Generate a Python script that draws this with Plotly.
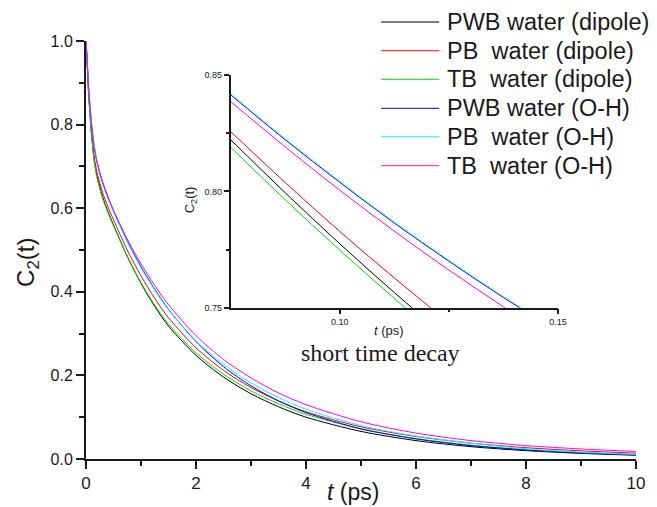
import plotly.graph_objects as go

# ---------------- data ----------------
T = [0, 0.025, 0.05, 0.075, 0.1, 0.15, 0.2, 0.3, 0.4, 0.5, 0.75, 1.0, 1.25, 1.5,
     2.0, 2.5, 3.0, 3.5, 4.0, 5.0, 6.0, 7.0, 8.0, 9.0, 10.0]
PWB_DIPOLE = [1.0, 0.935, 0.868, 0.822, 0.778, 0.715, 0.677, 0.628, 0.592, 0.560, 0.485, 0.420, 0.365, 0.318,
              0.248, 0.196, 0.156, 0.125, 0.100, 0.066, 0.044, 0.0295, 0.020, 0.0135, 0.009]
PB_DIPOLE = [1.0, 0.938, 0.872, 0.8257, 0.783, 0.722, 0.686, 0.638, 0.603, 0.572, 0.500, 0.438, 0.384, 0.338,
             0.266, 0.212, 0.171, 0.139, 0.113, 0.077, 0.054, 0.038, 0.027, 0.0195, 0.014]
TB_DIPOLE = [1.0, 0.932, 0.864, 0.819, 0.774, 0.711, 0.673, 0.624, 0.589, 0.558, 0.485, 0.422, 0.368, 0.323,
             0.254, 0.203, 0.163, 0.132, 0.107, 0.072, 0.049, 0.033, 0.0225, 0.0155, 0.0105]
PWB_OH = [1.0, 0.945, 0.885, 0.8415, 0.804, 0.748, 0.712, 0.664, 0.627, 0.594, 0.522, 0.460, 0.406, 0.358,
          0.281, 0.221, 0.175, 0.139, 0.111, 0.072, 0.048, 0.032, 0.0215, 0.0145, 0.0098]
PB_OH = [1.0, 0.946, 0.886, 0.842, 0.8045, 0.747, 0.710, 0.661, 0.624, 0.591, 0.519, 0.457, 0.404, 0.357,
         0.283, 0.226, 0.182, 0.147, 0.119, 0.080, 0.055, 0.038, 0.0245, 0.0165, 0.011]
TB_OH = [1.0, 0.943, 0.881, 0.8386, 0.8005, 0.744, 0.708, 0.661, 0.626, 0.595, 0.526, 0.467, 0.415, 0.369,
         0.295, 0.238, 0.194, 0.158, 0.130, 0.089, 0.062, 0.044, 0.032, 0.024, 0.018]

# short-time (inset) data
INSET_T = [0.075, 0.0875, 0.1, 0.1125, 0.125, 0.1375, 0.15]
IN_PWB_DIPOLE = [0.8222, 0.7994, 0.7775, 0.7565, 0.7365, 0.7174, 0.6993]
IN_PB_DIPOLE = [0.8257, 0.8038, 0.7828, 0.7628, 0.7437, 0.7255, 0.7083]
IN_TB_DIPOLE = [0.8190, 0.7964, 0.7748, 0.7540, 0.7342, 0.7154, 0.6975]
IN_PWB_OH = [0.8415, 0.8222, 0.8039, 0.7864, 0.7700, 0.7544, 0.7398]
IN_PB_OH = [0.8420, 0.8227, 0.8044, 0.7869, 0.7705, 0.7549, 0.7403]
IN_TB_OH = [0.8386, 0.8191, 0.8005, 0.7829, 0.7662, 0.7504, 0.7356]

NAMES = ["PWB water (dipole)", "PB\u00a0 water (dipole)", "TB\u00a0 water (dipole)",
         "PWB water (O-H)", "PB\u00a0 water (O-H)", "TB\u00a0 water (O-H)"]
COLORS = ["#000000", "#ff0000", "#00dd00", "#0000ff", "#00ffff", "#ff00ff"]

MAIN = [PWB_DIPOLE, PB_DIPOLE, TB_DIPOLE, PWB_OH, PB_OH, TB_OH]
INSET = [IN_PWB_DIPOLE, IN_PB_DIPOLE, IN_TB_DIPOLE, IN_PWB_OH, IN_PB_OH, IN_TB_OH]

SANS = "Liberation Sans, Arial, sans-serif"
SERIF = "Liberation Serif, Times New Roman, serif"
INK = "#1a1a1a"

fig = go.Figure()
for name, col, ys in zip(NAMES, COLORS, MAIN):
    fig.add_trace(go.Scatter(x=T, y=ys, name=name, mode="lines", showlegend=False,
                             line=dict(color=col, width=1, shape="spline", smoothing=0.8),
                             xaxis="x", yaxis="y"))
for name, col, ys in zip(NAMES, COLORS, INSET):
    fig.add_trace(go.Scatter(x=INSET_T, y=ys, name=name, mode="lines", showlegend=False,
                             opacity=0.6 if col == "#00ffff" else 1.0,
                             line=dict(color=col, width=1, shape="spline"),
                             xaxis="x2", yaxis="y2"))

W, H = 657, 507
L, R, TOP, B = 86, 12, 41, 48
pw, ph = W - L - R, H - TOP - B


def px_x(p):
    return (p - L) / pw


def px_y(p):
    return (H - B - p) / ph


axis_common = dict(showgrid=False, zeroline=False, showline=True, linecolor=INK,
                   ticks="outside", tickcolor=INK)

fig.update_layout(
    width=W, height=H,
    margin=dict(l=L, r=R, t=TOP, b=B),
    paper_bgcolor="white", plot_bgcolor="white",
    font=dict(family=SANS, color=INK),
    showlegend=False,
    xaxis=dict(**axis_common, range=[0, 10], linewidth=2, tickwidth=2, ticklen=8,
               tickvals=[0, 2, 4, 6, 8, 10], ticktext=["0", "2", "4", "6", "8", "10"],
               tickfont=dict(size=17, family=SANS),
               minor=dict(ticks="outside", ticklen=5, tickwidth=2, dtick=1, tick0=0, tickcolor=INK),
               domain=[0, 1], anchor="y"),
    yaxis=dict(**axis_common, range=[0, 1], linewidth=2, tickwidth=2, ticklen=8,
               tickvals=[0, 0.2, 0.4, 0.6, 0.8, 1.0], tickformat=".1f",
               tickfont=dict(size=16, family=SANS),
               minor=dict(ticks="outside", ticklen=5, tickwidth=2, dtick=0.1, tick0=0, tickcolor=INK),
               domain=[0, 1], anchor="x"),
    xaxis2=dict(**axis_common, range=[0.075, 0.15], linewidth=1.5, tickwidth=1.5, ticklen=5,
                tickvals=[0.10, 0.15], tickformat=".2f", tickfont=dict(size=9, family=SANS),
                minor=dict(ticks="outside", ticklen=3, tickwidth=1.5, tickvals=[0.125], tickcolor=INK),
                domain=[px_x(233), px_x(565.7)], anchor="y2"),
    yaxis2=dict(**axis_common, range=[0.75, 0.85], linewidth=1.5, tickwidth=1.5, ticklen=5,
                tickvals=[0.75, 0.80, 0.85], tickformat=".2f", tickfont=dict(size=9, family=SANS),
                minor=dict(ticks="outside", ticklen=3, tickwidth=1.5, tickvals=[0.775, 0.825], tickcolor=INK),
                domain=[px_y(307.7), px_y(75)], anchor="x2"),
)


def ann(text, x, y, size, family=SANS, angle=0, xanchor="center"):
    return dict(text=text, x=px_x(x), y=px_y(y), xref="paper", yref="paper",
                xanchor=xanchor, yanchor="middle", showarrow=False, textangle=angle,
                font=dict(size=size, family=family, color=INK))


annotations = [
    ann("C<sub>2</sub>(t)", 26, 262, 24, angle=-90),
    ann("<i>t</i> (ps)", 357, 492, 23),
    ann("C<sub>2</sub>(t)", 192, 200, 13, angle=-90),
    ann("<i>t</i> (ps)", 394, 330, 13),
    ann("short time decay", 385.5, 353, 24, family=SERIF),
]

# legend (drawn from the series names and colours)
LEG_ROWS = [22, 50.7, 79.3, 108.3, 136.7, 165.7]
shapes = []
for name, col, yc in zip(NAMES, COLORS, LEG_ROWS):
    shapes.append(dict(type="line", xref="paper", yref="paper",
                       x0=px_x(386), x1=px_x(445), y0=px_y(yc), y1=px_y(yc),
                       line=dict(color=col, width=1)))
    annotations.append(ann(name, 451, yc, 23.5, xanchor="left"))

fig.update_layout(annotations=annotations, shapes=shapes)

fig.write_html("out.html")
